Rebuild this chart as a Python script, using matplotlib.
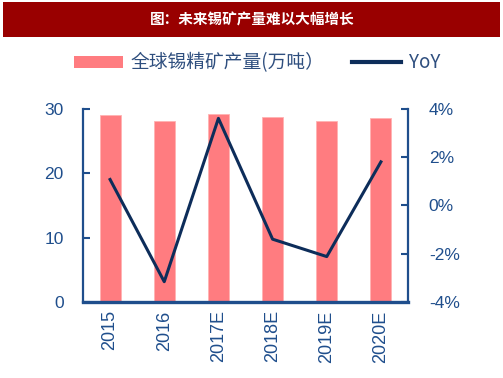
import matplotlib
matplotlib.use("Agg")
import matplotlib.pyplot as plt
from matplotlib.patches import Rectangle, Patch
from matplotlib.lines import Line2D
from matplotlib.ticker import FuncFormatter

categories = ["2015", "2016", "2017E", "2018E", "2019E", "2020E"]
production = [29.0, 28.1, 29.1, 28.7, 28.1, 28.5]
yoy = [1.07, -3.16, 3.6, -1.4, -2.12, 1.8]

title = "图：未来锡矿产量难以大幅增长"
bar_label = "全球锡精矿产量(万吨）"
line_label = "YoY"

bar_color = "#FF7C80"
line_color = "#0D2D5A"
axis_color = "#1F4E8C"
text_color = "#1F4E8C"

fig = plt.figure(figsize=(5.03, 3.78), dpi=100)

# title bar
fig.patches.append(Rectangle((3/503, 1 - 37/378), 497/503, 35/378, transform=fig.transFigure,
                             facecolor="#990000", edgecolor="none", zorder=0))
fig.text(252/503, 1 - 20/378, title, color="white", fontsize=10.5, fontweight="bold",
         family=["Noto Sans CJK SC", "DejaVu Sans"], ha="center", va="center")

ax = fig.add_axes([83/503, 76/378, 325/503, 193.3/378])
x = list(range(len(categories)))
ax.bar(x, production, width=0.39, color=bar_color, edgecolor="#FFB3B3", linewidth=0.6, zorder=1)
ax.set_xlim(-0.5, len(categories) - 0.5)
ax.set_ylim(0, 30)
ax.set_yticks([0, 10, 20, 30])
ax.set_xticks(x)
ax.set_xticklabels(categories, rotation=90, family="Liberation Sans", fontsize=13, color=text_color)
for lab in ax.get_yticklabels():
    lab.set_family("Liberation Sans")
ax.tick_params(axis="y", direction="in", length=5, width=1.5, color=axis_color,
               labelsize=12.5, labelcolor=text_color, pad=14)
ax.tick_params(axis="x", length=0, pad=6)
ax.spines["top"].set_visible(False)
ax.spines["right"].set_visible(False)
ax.spines["left"].set_color(axis_color)
ax.spines["left"].set_linewidth(1.6)
ax.spines["bottom"].set_color(axis_color)
ax.spines["bottom"].set_linewidth(2.4)

ax2 = ax.twinx()
ax2.plot(x, yoy, color=line_color, linewidth=2.2, zorder=3)
ax2.set_ylim(-4, 4)
ax2.set_yticks([-4, -2, 0, 2, 4])
ax2.yaxis.set_major_formatter(FuncFormatter(lambda v, p: f"{int(round(v))}%"))
ax2.tick_params(axis="y", direction="in", length=5, width=1.5, color=axis_color,
                labelsize=12.5, labelcolor=text_color, pad=15)
for lab in ax2.get_yticklabels():
    lab.set_family("Liberation Sans")
for s in ["top", "left", "bottom"]:
    ax2.spines[s].set_visible(False)
ax2.spines["right"].set_color(axis_color)
ax2.spines["right"].set_linewidth(1.6)

handles = [Patch(facecolor=bar_color, edgecolor="none"),
           Line2D([0], [0], color=line_color, linewidth=3)]
leg = fig.legend(handles, [bar_label, line_label], loc="center", bbox_to_anchor=(257/503, 1 - 63/378),
                 ncol=2, frameon=False, handlelength=2.6, handleheight=0.6, handletextpad=0.4,
                 columnspacing=1.5, prop={"family": ["Noto Sans CJK SC", "DejaVu Sans"], "size": 13.5})
for t in leg.get_texts():
    t.set_color("#2E4E7E")

fig.savefig("out.png", dpi=100)
